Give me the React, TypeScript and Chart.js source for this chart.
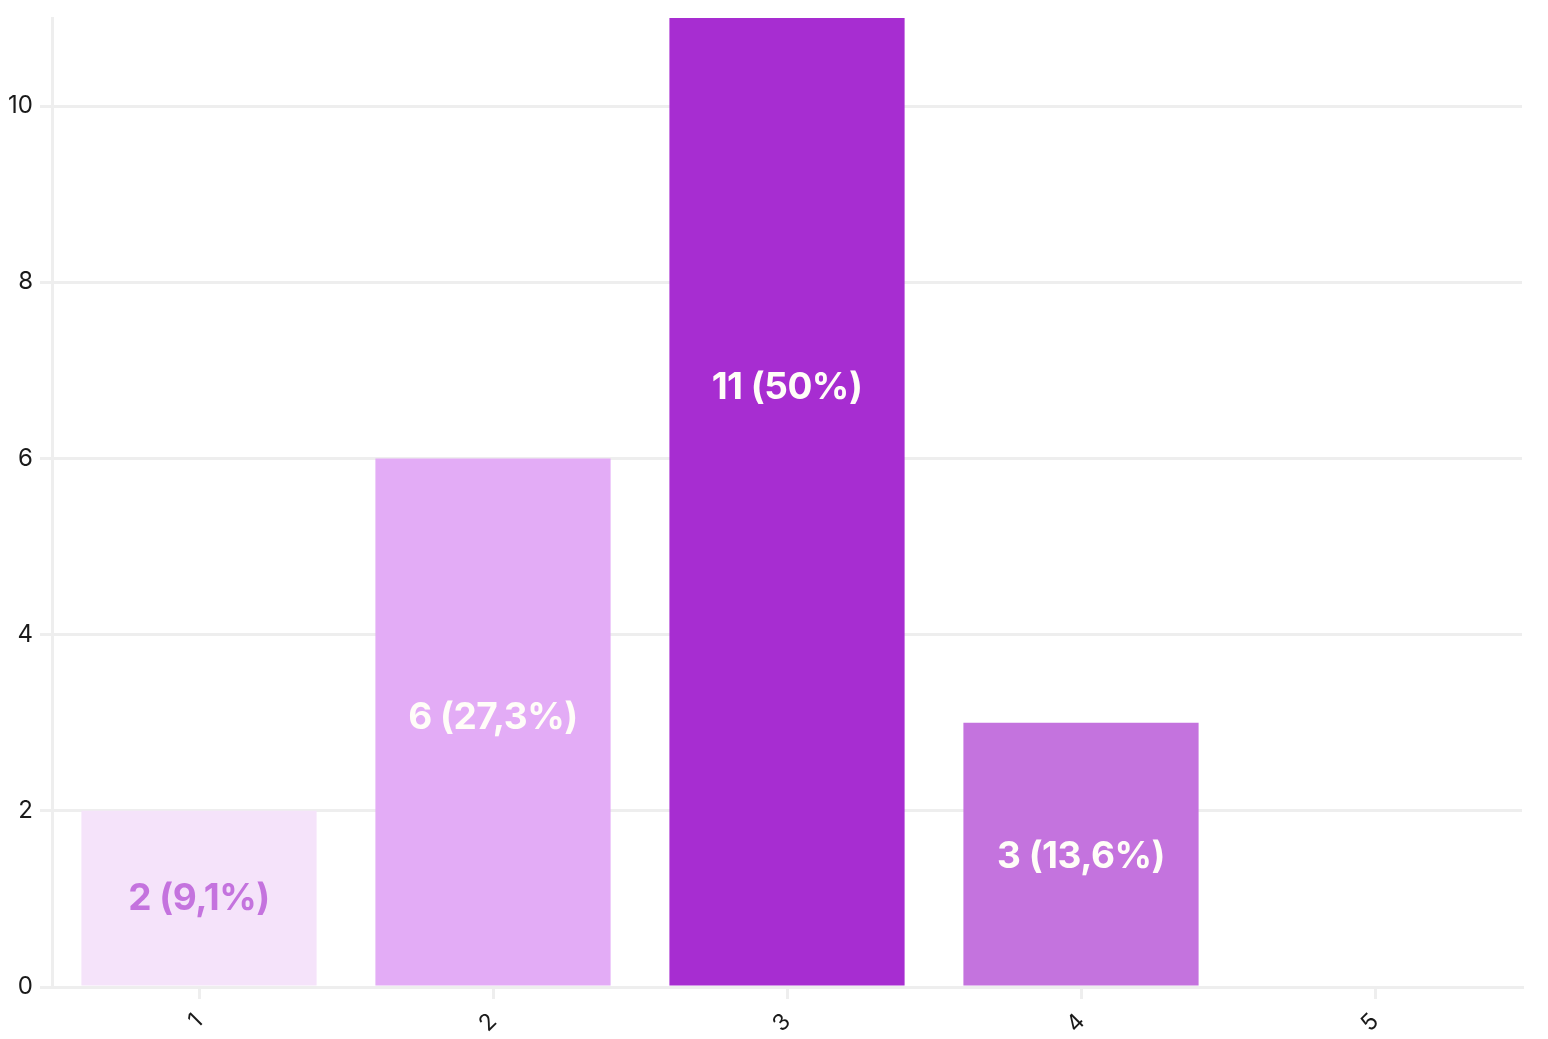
import React, { useEffect, useRef } from "react";
import { Chart, registerables } from "chart.js";

Chart.register(...registerables);

const categories = ["1", "2", "3", "4", "5"];
const counts = [2, 6, 11, 3, 0];
const barColors = ["#F5E3FA", "#E3ACF6", "#A72DD1", "#C473DE", "#E8C8F5"];
const labelColors = ["#C473DE", "#FFFDF8", "#FFFDF8", "#FFFDF8", "#FFFDF8"];
// vertical anchor of each value label, in data units
const labelAnchors = [1, 3.05, 6.8, 1.48, 0];
const yMax = 11;
const yStep = 2;

const total = counts.reduce((a, b) => a + b, 0);
const valueLabels = counts.map((v) => {
  const pct = Math.round((v / total) * 1000) / 10;
  const pctText = Number.isInteger(pct) ? String(pct) : pct.toFixed(1).replace(".", ",");
  return `${v} (${pctText}%)`;
});

const barLabelPlugin = {
  id: "barLabels",
  afterDatasetsDraw(chart: any) {
    const ctx = chart.ctx;
    const meta = chart.getDatasetMeta(0);
    const yScale = chart.scales.y;
    ctx.save();
    ctx.font = "700 37px Inter";
    try {
      (ctx as any).letterSpacing = "-0.5px";
    } catch (e) {}
    ctx.textAlign = "center";
    ctx.textBaseline = "middle";
    meta.data.forEach((bar: any, i: number) => {
      if (!counts[i]) return;
      ctx.fillStyle = labelColors[i];
      ctx.fillText(valueLabels[i], bar.x, yScale.getPixelForValue(labelAnchors[i]));
    });
    ctx.restore();
  },
};

export default function App() {
  const ref = useRef<HTMLCanvasElement>(null);

  useEffect(() => {
    document.body.style.margin = "0";
    document.body.style.overflow = "hidden";
    const chart = new Chart(ref.current!, {
      type: "bar",
      data: {
        labels: categories,
        datasets: [
          {
            data: counts,
            backgroundColor: barColors,
            borderWidth: 0,
            barPercentage: 1,
            categoryPercentage: 0.8,
          },
        ],
      },
      options: {
        animation: false,
        responsive: true,
        maintainAspectRatio: false,
        layout: { padding: { top: 18, right: 26, left: 0, bottom: 0 } },
        plugins: {
          legend: { display: false },
          tooltip: { enabled: false },
        },
        scales: {
          x: {
            grid: {
              offset: false,
              drawOnChartArea: false,
              drawTicks: true,
              tickLength: 12,
              color: "#EEEEEE",
              lineWidth: 3,
            },
            border: { color: "#EEEEEE", width: 3 },
            ticks: {
              minRotation: 45,
              maxRotation: 45,
              color: "#1A1A1A",
              font: { family: "Inter", size: 23 },
              padding: 9,
            },
            afterFit(scale: any) {
              scale.height = 52;
              scale.paddingLeft = 0;
              scale.paddingRight = 0;
            },
          },
          y: {
            min: 0,
            max: yMax,
            grid: {
              color: "#EEEEEE",
              lineWidth: 3,
              tickLength: 12,
            },
            border: { color: "#EEEEEE", width: 3 },
            ticks: {
              stepSize: yStep,
              includeBounds: false,
              color: "#1A1A1A",
              font: { family: "Inter", size: 24 },
              padding: 7,
            },
            afterFit(scale: any) {
              scale.width = 52;
              scale.paddingTop = 0;
              scale.paddingBottom = 0;
            },
          },
        },
      },
      plugins: [barLabelPlugin],
    });
    return () => chart.destroy();
  }, []);

  return (
    <div style={{ position: "relative", width: "1548px", height: "1039px" }}>
      <canvas ref={ref} />
    </div>
  );
}
